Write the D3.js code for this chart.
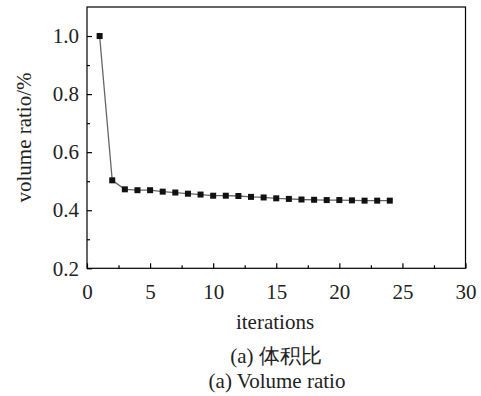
<!DOCTYPE html>
<html><head><meta charset="utf-8">
<script src="https://cdn.jsdelivr.net/npm/d3@7"></script>
<style>body{margin:0;background:#fff}svg{display:block}text{font-family:"Liberation Serif","Times New Roman",Times,serif}</style>
</head><body>
<script>
const iterations = [1,2,3,4,5,6,7,8,9,10,11,12,13,14,15,16,17,18,19,20,21,22,23,24];
const volumeRatio = [1.0,0.503,0.472,0.469,0.469,0.464,0.461,0.457,0.454,0.450,0.450,0.449,0.446,0.444,0.441,0.439,0.437,0.436,0.435,0.435,0.434,0.433,0.433,0.433];
const xTicks = [0,5,10,15,20,25,30];
const yTicks = [0.2,0.4,0.6,0.8,1.0];
const xLabel = "iterations", yLabel = "volume ratio/%";
const caption1 = "(a) 体积比", caption2 = "(a) Volume ratio";

const W=481,H=396, L=87, R=465.5, T=7, B=268.3;
const svg=d3.select("body").append("svg").attr("width",W).attr("height",H);
const x=d3.scaleLinear().domain([0,30]).range([L,R]);
const y=d3.scaleLinear().domain([0.2,1.1]).range([B,T]);
const font='"Liberation Serif","Times New Roman",Times,serif';

svg.append("rect").attr("x",L).attr("y",T).attr("width",R-L).attr("height",B-T)
  .attr("fill","none").attr("stroke","#000").attr("stroke-width",1.2);

const xa=svg.append("g").attr("transform",`translate(0,${B})`)
  .call(d3.axisBottom(x).tickValues(xTicks).tickSize(-5).tickPadding(16).tickFormat(d3.format("d")));
const xm=svg.append("g").attr("transform",`translate(0,${B})`)
  .call(d3.axisBottom(x).tickValues(d3.range(2.5,30,5)).tickSize(-3).tickFormat(""));
const ya=svg.append("g").attr("transform",`translate(${L},0)`)
  .call(d3.axisLeft(y).tickValues(yTicks).tickSize(-5).tickPadding(8).tickFormat(d3.format(".1f")));
const ym=svg.append("g").attr("transform",`translate(${L},0)`)
  .call(d3.axisLeft(y).tickValues([0.3,0.5,0.7,0.9]).tickSize(-3).tickFormat(""));
[xa,xm,ya,ym].forEach(g=>{
  g.attr("font-family",null).style("font-family",font);
  g.select(".domain").remove();
  g.selectAll("line").attr("stroke","#000").attr("stroke-width",1.2);
  g.selectAll("text").style("font-family",font).attr("font-size",21).attr("fill","#222");
});
xa.selectAll("text").attr("dy","0.71em");

const pts=iterations.map((d,i)=>[d,volumeRatio[i]]);
svg.append("path").datum(pts)
  .attr("d",d3.line().x(d=>x(d[0])).y(d=>y(d[1])))
  .attr("fill","none").attr("stroke","#666").attr("stroke-width",1.3);
svg.selectAll("rect.m").data(pts).enter().append("rect").attr("class","m")
  .attr("x",d=>x(d[0])-3).attr("y",d=>y(d[1])-3).attr("width",6).attr("height",6).attr("fill","#111");

function lab(t,xx,yy,rot){
  const e=svg.append("text").attr("text-anchor","middle").style("font-family",font)
    .attr("font-size",21).attr("fill","#222").text(t);
  if(rot) e.attr("transform",`translate(${xx},${yy}) rotate(-90)`); else e.attr("x",xx).attr("y",yy);
}
lab(xLabel,275,329);
lab(yLabel,31,137.5,true);
lab(caption1,276,363);
lab(caption2,277,388);
</script>
</body></html>
